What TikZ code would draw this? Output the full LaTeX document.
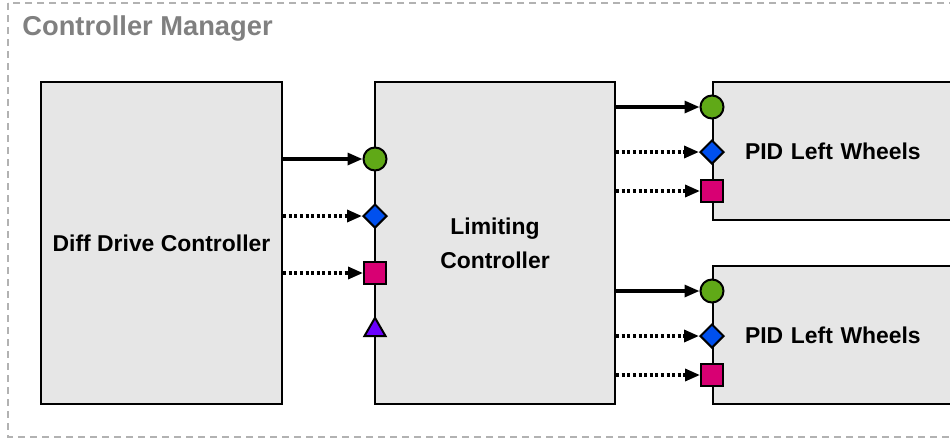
\documentclass[tikz,border=0pt]{standalone}
\usepackage{fontspec}
\setmainfont{Liberation Sans}
\usetikzlibrary{arrows.meta,calc,positioning,shapes.geometric}

\definecolor{boxgray}{HTML}{E6E6E6}
\definecolor{pgreen}{HTML}{60A917}
\definecolor{pblue}{HTML}{0050EF}
\definecolor{ppink}{HTML}{D80073}
\definecolor{ppurple}{HTML}{6A00FF}

\tikzset{
  block/.style={draw,line width=1.1pt,fill=boxgray,align=center,inner sep=0pt,
    font=\bfseries\fontsize{11.45}{17}\selectfont},
  pidbox/.style={block,anchor=west,align=left,inner xsep=16pt,text width=118pt,minimum height=69pt},
  port/.style={draw,line width=1pt,inner sep=0pt},
  pcirc/.style={port,circle,fill=pgreen,minimum size=11.5pt},
  pdiam/.style={port,diamond,fill=pblue,minimum size=12pt},
  psq/.style={port,rectangle,fill=ppink,minimum size=11pt},
  ptri/.style={port,regular polygon,regular polygon sides=3,fill=ppurple,minimum size=12.2pt},
  flow/.style={line width=1.6pt,-{Triangle[length=7.5pt,width=6pt]}},
  sig/.style={flow,line width=1.7pt,dash pattern=on 1.5pt off 1.3pt},
}

\begin{document}
\begin{tikzpicture}[x=0.5pt,y=-0.5pt]
\useasboundingbox (0,0) rectangle (950,441);
\clip (0,0) rectangle (950,441);
% controller manager frame
\draw[black!30,line width=1.1pt,dash pattern=on 3.5pt off 2.5pt] (8,3) rectangle (990,437);
\node[anchor=base west,inner sep=0pt,text=black!50,font=\bfseries\fontsize{13.65}{16}\selectfont]
  (mgr) at (22,35) {Controller Manager};

\node[block,minimum width=120.5pt,minimum height=161pt] (diff) at (161.5,243) {Diff Drive Controller};
\node[block,minimum width=120pt,minimum height=161pt] (limit) at (495,243) {Limiting\\Controller};

% inputs of the limiting controller
\node[pcirc] (limc) at (375,159) {};
\node[pdiam] (limd) at (375,216) {};
\node[psq] (lims) at (375,273) {};
\node[ptri] (limt) at (375,330) {};
\draw[flow] (diff.east |- limc) -- (limc.west);
\draw[sig] (diff.east |- limd) -- (limd.west);
\draw[sig] (diff.east |- lims) -- (lims.west);

% wheel controllers
\foreach \n/\y in {A/151,B/335}{
  \node[pidbox] (pid\n) at (712,\y) {PID Left Wheels};
  \node[pcirc] (pid\n c) at (712,\y-44) {};
  \node[pdiam] (pid\n d) at (712,\y+1) {};
  \node[psq] (pid\n s) at (712,\y+40) {};
  \draw[flow] (limit.east |- pid\n c) -- (pid\n c.west);
  \draw[sig] (limit.east |- pid\n d) -- (pid\n d.west);
  \draw[sig] (limit.east |- pid\n s) -- (pid\n s.west);
}
\end{tikzpicture}
\end{document}
